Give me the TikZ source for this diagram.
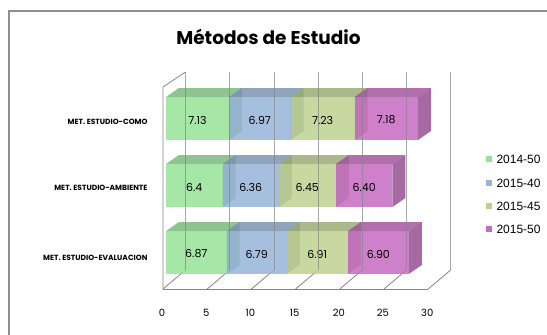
\documentclass[tikz,border=0pt]{standalone}
\usepackage{fontspec}
\setmainfont{Poppins}
\newfontfamily\legfont{Liberation Sans}
\usetikzlibrary{calc}
\usetikzlibrary{positioning}

\definecolor{framegray}{HTML}{8E8E8E}
\definecolor{gridgray}{HTML}{858585}
\definecolor{serA}{HTML}{96E296}
\definecolor{serB}{HTML}{97B4D9}
\definecolor{serC}{HTML}{BDD18F}
\definecolor{serD}{HTML}{C76AC2}

\tikzset{
  gridline/.style={draw=gridgray,line width=0.8pt},
  barface/.style={fill opacity=0.85},
  vallabel/.style={font=\fontsize{11}{13}\selectfont},
  catlabel/.style={anchor=east,font=\bfseries\fontsize{7.5}{9}\selectfont},
  ticklabel/.style={font=\fontsize{10}{12}\selectfont},
  leglabel/.style={anchor=west,font=\legfont\fontsize{12}{14}\selectfont},
}

% one stacked segment: from value #1 to #2, front top at #3, colour #4
\newcommand{\barseg}[6]{%
  \pgfmathsetmacro{\xa}{166+8.84*#1}
  \pgfmathsetmacro{\xb}{166+8.84*#2}
  \fill[barface,#4!82!black] (\xa,#3) -- ++(13,-9) -- (\xb+13,#3-9) -- (\xb,#3) -- cycle;
  \fill[barface,#4!75!black] (\xb,#3) -- ++(13,-9) -- ++(0,43) -- (\xb,#3+43) -- cycle;
  \fill[barface,#4] (\xa,#3) rectangle (\xb,#3+43);
  \node[vallabel] (#6) at ({(\xa+\xb)/2},#3+23) {#5};
}

\begin{document}
\begin{tikzpicture}[x=1pt,y=-1pt]
  \useasboundingbox (0,0) rectangle (547,335);
  \draw[framegray,line width=1.5pt] (9,336) -- (9,11) -- (548,11);

  \node[font=\bfseries\fontsize{18.5}{22}\selectfont] (title) at (268.5,37) {Métodos de Estudio};

  % walls and floor
  \draw[gridline] (163,289) -- (163,87) -- (185.5,72);
  \draw[gridline] (163,289) -- (428,289);
  \foreach \k in {0,...,6}
    \draw[gridline] (163+44.2*\k,289) -- (185.5+44.2*\k,270);

  % bars
  \barseg{0}{7.13}{97}{serA}{7.13}{c1a}
  \barseg{7.13}{14.10}{97}{serB}{6.97}{c1b}
  \barseg{14.10}{21.33}{97}{serC}{7.23}{c1c}
  \barseg{21.33}{28.51}{97}{serD}{7.18}{c1d}

  \barseg{0}{6.4}{164}{serA}{6.4}{c2a}
  \barseg{6.4}{12.76}{164}{serB}{6.36}{c2b}
  \barseg{12.76}{19.21}{164}{serC}{6.45}{c2c}
  \barseg{19.21}{25.61}{164}{serD}{6.40}{c2d}

  \barseg{0}{6.87}{231}{serA}{6.87}{c3a}
  \barseg{6.87}{13.66}{231}{serB}{6.79}{c3b}
  \barseg{13.66}{20.57}{231}{serC}{6.91}{c3c}
  \barseg{20.57}{27.47}{231}{serD}{6.90}{c3d}

  % back wall gridlines
  \foreach \k in {0,...,6}
    \draw[gridline,draw opacity=0.7] (185.5+44.2*\k,72) -- (185.5+44.2*\k,270);

  % axis
  \foreach \k/\t in {0/0,1/5,2/10,3/15,4/20,5/25,6/30}
    \node[ticklabel] (tick\k) at (162+44.2*\k,313) {\t};

  % categories
  \node[catlabel] (catcomo) at (151,122) {MET. ESTUDIO-COMO};
  \node[catlabel] (catamb) at (151,188) {MET. ESTUDIO-AMBIENTE};
  \node[catlabel] (cateval) at (151,258) {MET. ESTUDIO-EVALUACION};

  % legend
  \foreach \c/\t/\y [count=\i] in {serA/2014-50/159,serB/2015-40/183,serC/2015-45/206,serD/2015-50/229} {
    \fill[\c] (486,\y-3) rectangle (492,\y+3);
    \node[leglabel] (leg\i) at (493,\y) {\t};
  }
\end{tikzpicture}
\end{document}
